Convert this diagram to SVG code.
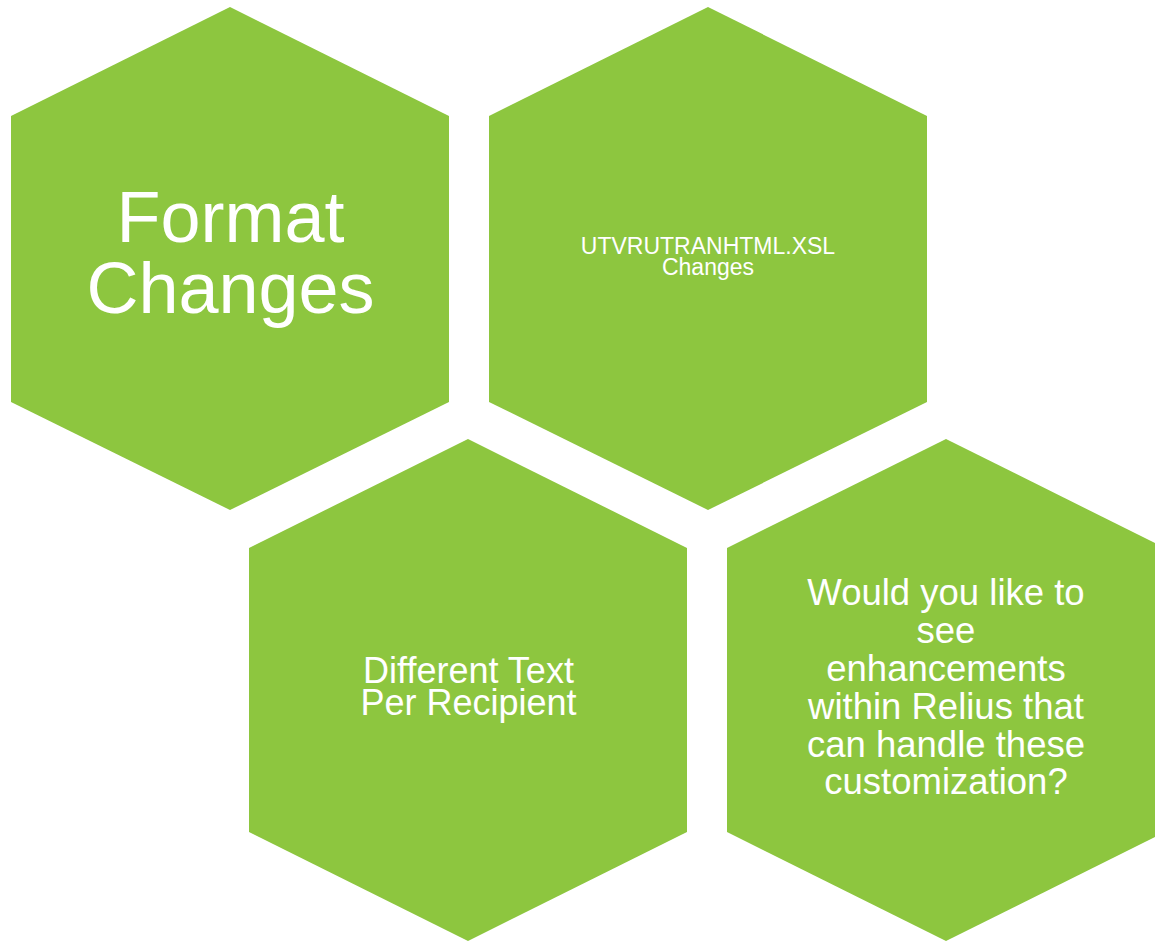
<svg xmlns="http://www.w3.org/2000/svg" width="1155" height="941" viewBox="0 0 1155 941">
<style>
.hex{fill:#8dc63f}
.t{fill:#ffffff;font-family:"Liberation Sans",Arial,sans-serif;text-anchor:middle}
</style>
<rect width="1155" height="941" fill="#ffffff"/>
<g id="node-format">
<polygon class="hex" points="230,7 449,116 449,402 230,510 11,402 11,116"/>
<text class="t" font-size="72" x="230.5" y="242">Format</text>
<text class="t" font-size="72" x="230.5" y="313">Changes</text>
</g>
<g id="node-xsl">
<polygon class="hex" points="708,7 927,116 927,402 708,510 489,402 489,116"/>
<text class="t" font-size="23" x="708" y="254">UTVRUTRANHTML.XSL</text>
<text class="t" font-size="23" x="708" y="275">Changes</text>
</g>
<g id="node-text">
<polygon class="hex" points="468,439 687,548 687,832 468,941 249,832 249,548"/>
<text class="t" font-size="36" x="468.5" y="683">Different Text</text>
<text class="t" font-size="36" x="468.5" y="715">Per Recipient</text>
</g>
<g id="node-question">
<polygon class="hex" points="946,439 1165,548 1165,832 946,941 727,832 727,548"/>
<text class="t" font-size="36.5" x="946" y="605">Would you like to</text>
<text class="t" font-size="36.5" x="946" y="643">see</text>
<text class="t" font-size="36.5" x="946" y="681">enhancements</text>
<text class="t" font-size="36.5" x="946" y="719">within Relius that</text>
<text class="t" font-size="36.5" x="946" y="757">can handle these</text>
<text class="t" font-size="36.5" x="946" y="794">customization?</text>
</g>
<g id="connectors"/>
</svg>
